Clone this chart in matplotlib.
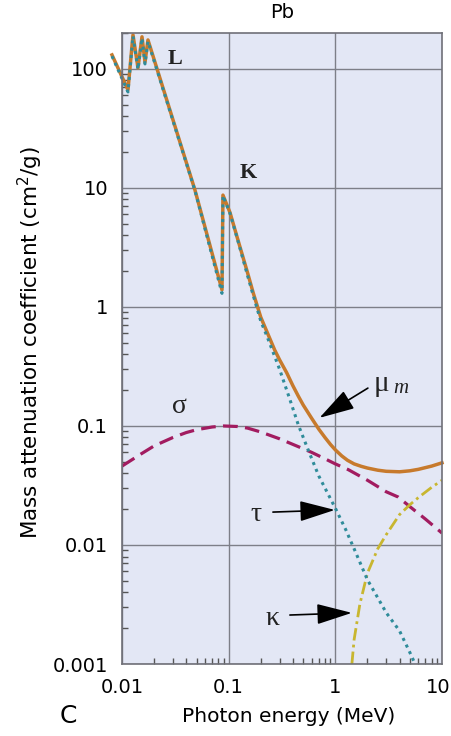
import matplotlib
matplotlib.use("Agg")
import matplotlib.pyplot as plt
from matplotlib import ticker

# total mass attenuation (mu_m)
mu_energy = [0.00806, 0.01138, 0.01268, 0.01412, 0.01540, 0.01643, 0.01752, 0.0483,
             0.0866, 0.0884, 0.103, 0.12, 0.15, 0.17, 0.2, 0.23, 0.27, 0.3, 0.35,
             0.4, 0.45, 0.5, 0.6, 0.7, 0.8, 0.9, 1.0, 1.15, 1.3, 1.5, 1.75, 2.0,
             2.5, 3.0, 4.0, 5.0, 6.0, 8.0, 10.0]
mu_values = [131, 66.6, 193, 102, 186, 114, 175, 9.6,
             1.39, 8.7, 6.2, 3.86, 1.95, 1.31, 0.82, 0.61, 0.435, 0.36, 0.28,
             0.218, 0.178, 0.150, 0.116, 0.094, 0.080, 0.070, 0.063, 0.056, 0.0515, 0.048, 0.0458, 0.0443,
             0.0425, 0.0416, 0.0412, 0.042, 0.0432, 0.046, 0.049]

# photoelectric (tau)
tau_energy = [0.00806, 0.01138, 0.01268, 0.01412, 0.01540, 0.01643, 0.01752, 0.0483,
              0.0866, 0.0884, 0.103, 0.12, 0.15, 0.17, 0.2, 0.23, 0.26, 0.3, 0.37,
              0.45, 0.56, 0.7, 0.9, 1.0, 1.25, 1.5, 2.0, 2.5, 3.0, 4.0, 5.0, 5.6]
tau_values = [128, 64, 188, 99, 181, 110, 170, 9.5,
              1.3, 8.6, 6.1, 3.8, 1.85, 1.25, 0.76, 0.56, 0.42, 0.30, 0.173,
              0.102, 0.062, 0.038, 0.0245, 0.0204, 0.0135, 0.0093, 0.0051, 0.0036, 0.0027, 0.0019, 0.00125, 0.001]

# Compton (sigma)
sigma_energy = [0.01, 0.015, 0.02, 0.03, 0.04, 0.05, 0.07, 0.09, 0.12, 0.15, 0.2,
                0.3, 0.45, 0.6, 0.8, 1.0, 1.32, 2.0, 3.0, 3.88, 5.0, 7.0, 10.0]
sigma_values = [0.046, 0.058, 0.068, 0.080, 0.088, 0.093, 0.098, 0.100, 0.099, 0.096, 0.089,
                0.078, 0.067, 0.060, 0.053, 0.048, 0.043, 0.035, 0.028, 0.0253, 0.021, 0.0165, 0.0126]

# pair production (kappa)
kappa_energy = [1.43, 1.5, 1.7, 2.0, 2.5, 3.0, 4.0, 5.0, 6.0, 8.0, 10.0]
kappa_values = [0.001, 0.0016, 0.0032, 0.0058, 0.0093, 0.0122, 0.0180, 0.0218, 0.0250, 0.0305, 0.0350]

orange = "#c77a2c"
teal = "#2f8c9a"
magenta = "#a21c60"
olive = "#c8b630"
ink = "#222222"

fig = plt.figure(figsize=(4.51, 7.36), dpi=100)
ax = fig.add_axes([0.2705, 0.0978, 0.7095, 0.8573])
ax.set_facecolor("#e3e7f5")
ax.set_xscale("log")
ax.set_yscale("log")
ax.set_xlim(0.01, 10)
ax.set_ylim(0.001, 200)

ax.grid(True, which="major", color="#7d7f88", lw=1.0)
ax.set_axisbelow(True)

ax.plot(sigma_energy, sigma_values, color=magenta, lw=2.3, ls=(0, (4.6, 2.3)))
ax.plot(kappa_energy, kappa_values, color=olive, lw=2.0, ls=(0, (4.5, 1.5, 1, 1.5)))
ax.plot(mu_energy, mu_values, color=orange, lw=2.5, clip_on=False)
ax.plot(tau_energy, tau_values, color=teal, lw=2.2, ls=(0, (1, 1.4)), clip_on=False)

for s in ax.spines.values():
    s.set_color("#6f7078")
    s.set_linewidth(1.2)

def tick_text(v, pos):
    # the 10 on the x axis sits on the figure edge, it is drawn by hand below
    return f"{v:g}"

ax.xaxis.set_major_locator(ticker.FixedLocator([0.01, 0.1, 1]))
ax.xaxis.set_major_formatter(ticker.FuncFormatter(tick_text))
ax.yaxis.set_major_formatter(ticker.FuncFormatter(tick_text))
ax.xaxis.set_minor_formatter(ticker.NullFormatter())
ax.yaxis.set_minor_formatter(ticker.NullFormatter())
ax.xaxis.set_minor_locator(ticker.LogLocator(base=10, subs=range(2, 10)))
ax.yaxis.set_minor_locator(ticker.LogLocator(base=10, subs=range(2, 10)))
ax.tick_params(which="both", direction="in", top=False, right=False, color="#555555")
ax.tick_params(which="major", length=0, labelsize=14, pad=10)
ax.tick_params(which="minor", length=4, width=1)
ax.annotate("10", xy=(10, 0.001), xycoords="data", xytext=(-3, -10), textcoords="offset points",
            ha="center", va="top", fontsize=14, annotation_clip=False)

ax.set_xlabel("Photon energy (MeV)", fontsize=14.5)
ax.set_ylabel("Mass attenuation coefficient (cm$^2$/g)", fontsize=15.5)
ax.xaxis.set_label_coords(0.52, -0.068)
ax.yaxis.set_label_coords(-0.24, 0.51)
ax.set_title("Pb", fontsize=14, pad=11)

serif = "Liberation Serif"
ax.text(0.0314, 121, "L", family=serif, fontsize=16, fontweight="bold", ha="center", va="center", color=ink)
ax.text(0.152, 13.4, "K", family=serif, fontsize=16, fontweight="bold", ha="center", va="center", color=ink)
ax.text(0.0349, 0.147, "σ", family=serif, fontsize=20, ha="center", va="center", color=ink)
ax.text(0.180, 0.0182, "τ", family=serif, fontsize=20, ha="center", va="center", color=ink)
ax.text(0.260, 0.00239, "κ", family=serif, fontsize=20, ha="center", va="center", color=ink)
ax.text(2.68, 0.225, "μ", family=serif, fontsize=21, ha="center", va="center", color=ink)
ax.text(4.1, 0.205, "m", family=serif, fontsize=15, style="italic", ha="center", va="center", color=ink)

arrow = dict(arrowstyle="-|>,head_length=1.1,head_width=0.32", color="black", lw=1.2,
             mutation_scale=20, shrinkA=0, shrinkB=0)
ax.annotate("", xy=(0.71, 0.117), xytext=(2.02, 0.208), arrowprops=arrow)
ax.annotate("", xy=(0.99, 0.0197), xytext=(0.26, 0.0189), arrowprops=arrow)
ax.annotate("", xy=(1.43, 0.00269), xytext=(0.375, 0.00258), arrowprops=arrow)

fig.text(0.151, 0.027, "C", fontsize=18, ha="center", va="center")

fig.savefig("out.png", dpi=100)
